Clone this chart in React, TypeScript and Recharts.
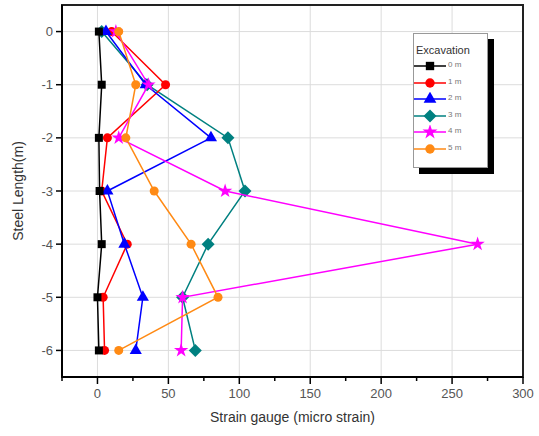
import React from "react";
import {
  ScatterChart,
  Scatter,
  XAxis,
  YAxis,
  ZAxis,
  CartesianGrid,
  ReferenceArea,
  Symbols,
} from "recharts";

// depth along the steel (m)
const depths = [0, -1, -2, -3, -4, -5, -6];

// strain readings for each excavation stage (micro strain)
const exc0m = [1, 3, 1, 1.5, 3, 0, 1];
const exc1m = [10, 48, 7, 3, 21, 4, 5];
const exc2m = [6, 34, 80, 7, 19, 32, 27];
const exc3m = [3, 35, 92, 104, 78, 60, 69];
const exc4m = [13, 36, 15, 90, 268, 60, 59];
const exc5m = [15, 27, 20, 40, 66, 85, 15];

const xTicks = [-25, 0, 25, 50, 75, 100, 125, 150, 175, 200, 225, 250, 275, 300];
const yTicks = [0, -1, -2, -3, -4, -5, -6];

const FONT = "'Liberation Sans', Arial, sans-serif";

const Diamond = (props: any) => {
  const { cx, cy, fill } = props;
  const r = 6.5;
  return (
    <polygon
      points={`${cx},${cy - r} ${cx + r},${cy} ${cx},${cy + r} ${cx - r},${cy}`}
      fill={fill}
    />
  );
};

const series = [
  { name: "0 m", values: exc0m, color: "#000000", shape: "square" },
  { name: "1 m", values: exc1m, color: "#ff0000", shape: "circle" },
  { name: "2 m", values: exc2m, color: "#0000ff", shape: "triangle" },
  { name: "3 m", values: exc3m, color: "#008080", shape: "diamond" },
  { name: "4 m", values: exc4m, color: "#ff00ff", shape: "star" },
  { name: "5 m", values: exc5m, color: "#ff8a14", shape: "circle" },
];

// teal goes underneath the others, like in the original plot
const drawOrder = [3, 1, 2, 4, 5, 0];

const XTick = (props: any) => {
  const { x, y, payload } = props;
  const major = payload.value % 50 === 0;
  return (
    <g>
      <line x1={x} x2={x} y1={y} y2={y + (major ? 7 : 4)} stroke="#000" strokeWidth={1.5} />
      {major && (
        <text x={x} y={y + 12} dy="0.71em" textAnchor="middle" fontSize={13} fill="#555" fontFamily={FONT}>
          {payload.value}
        </text>
      )}
    </g>
  );
};

const LegendBox = () => (
  <div style={{ position: "absolute", left: 413, top: 33, width: 75, height: 135 }}>
    <div style={{ position: "absolute", left: 6, top: 6, width: 75, height: 135, background: "#000" }} />
    <div
      style={{
        position: "absolute",
        left: 0,
        top: 0,
        width: 73,
        height: 133,
        background: "#fff",
        border: "1px solid #999",
        fontFamily: FONT,
      }}
    >
      <div style={{ position: "absolute", left: 2, top: 10, fontSize: 11, color: "#333" }}>Excavation</div>
      {series.map((s, i) => (
        <div key={s.name} style={{ position: "absolute", left: 0, top: 25 + i * 16.5, height: 14, width: 73 }}>
          <svg width={34} height={14} style={{ position: "absolute", left: 0, top: 0 }}>
            <line x1={0} x2={32} y1={7} y2={7} stroke={s.color} strokeWidth={1.5} />
            {s.shape === "diamond" ? (
              <Diamond cx={16} cy={7} fill={s.color} />
            ) : (
              <Symbols cx={16} cy={7} type={s.shape as any} size={70} fill={s.color} />
            )}
          </svg>
          <span style={{ position: "absolute", left: 34, top: 1, fontSize: 8, color: "#777" }}>{s.name}</span>
        </div>
      ))}
    </div>
  </div>
);

export default function App() {
  return (
    <div style={{ position: "absolute", left: 0, top: 0, width: 539, height: 436, background: "#fff" }}>
      <ScatterChart width={539} height={436} margin={{ top: 5, right: 16, left: 10, bottom: 9 }}>
        <CartesianGrid stroke="#dcdcdc" strokeWidth={1} horizontalValues={yTicks} verticalValues={[0, 50, 100, 150, 200, 250, 300]} />
        <XAxis
          type="number"
          dataKey="x"
          domain={[-25, 300]}
          ticks={xTicks}
          interval={0}
          allowDataOverflow
          height={50}
          tickSize={0}
          tickMargin={0}
          tickLine={false}
          tick={<XTick />}
          axisLine={{ stroke: "#000", strokeWidth: 2 }}
          label={{
            value: "Strain gauge (micro strain)",
            position: "insideBottom",
            offset: 5,
            fontSize: 14,
            fill: "#333",
            fontFamily: FONT,
          }}
        />
        <YAxis
          type="number"
          dataKey="y"
          domain={[-6.5, 0.5]}
          ticks={yTicks}
          interval={0}
          allowDataOverflow
          width={52}
          tickSize={6}
          tickMargin={3}
          tickLine={{ stroke: "#000", strokeWidth: 1.5 }}
          axisLine={{ stroke: "#000", strokeWidth: 2 }}
          tick={{ fontSize: 13, fill: "#555", fontFamily: FONT }}
          label={{
            value: "Steel Length(m)",
            angle: -90,
            position: "insideLeft",
            offset: 8,
            style: { textAnchor: "middle" },
            fontSize: 14,
            fill: "#333",
            fontFamily: FONT,
          }}
        />
        <ZAxis type="number" range={[90, 90]} />
        <ReferenceArea x1={-25} x2={300} y1={-6.5} y2={0.5} fill="none" stroke="#222" strokeWidth={2} ifOverflow="visible" />
        {drawOrder.map((idx) => {
          const s = series[idx];
          return (
            <Scatter
              key={s.name}
              name={s.name}
              data={depths.map((d, i) => ({ x: s.values[i], y: d }))}
              fill={s.color}
              line={{ stroke: s.color, strokeWidth: 1.5 }}
              shape={s.shape === "diamond" ? <Diamond /> : (s.shape as any)}
              isAnimationActive={false}
            />
          );
        })}
      </ScatterChart>
      <LegendBox />
    </div>
  );
}
